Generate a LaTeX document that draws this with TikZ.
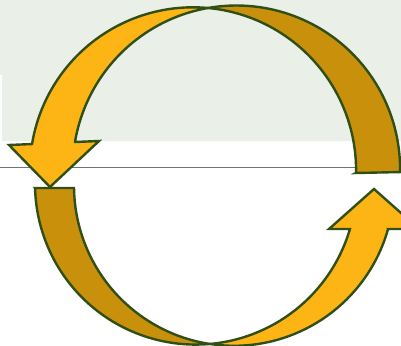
\documentclass[tikz,border=0pt]{standalone}
\definecolor{bgshade}{HTML}{EAF0E8}
\definecolor{goldlight}{HTML}{FDB515}
\definecolor{golddark}{HTML}{C9900C}
\definecolor{edgegreen}{HTML}{2F4F14}
\begin{document}
\begin{tikzpicture}[
    x=0.75pt, y=-0.75pt,
    lightpart/.style={fill=goldlight, draw=edgegreen, line width=1.8pt},
    darkpart/.style={fill=golddark, draw=edgegreen, line width=1.8pt},
    rule/.style={draw=black!55, line width=1pt},
    edge/.style={samples=60}
]
    \useasboundingbox (0,0) rectangle (401,346);
    \fill[bgshade] (0,0) -- (401,0) -- (401,141) -- (2,141) -- (2,75) -- (0,75) -- cycle;
    \draw[rule] (0,167.5) -- (378,167.5);

    % upper ring
    \draw[darkpart] plot[edge, domain=100:-1.0] ({236.4+163.7*cos(\x)}, {169.2-163.7*sin(\x)})
        -- (356,173)
        -- plot[edge, domain=-0.9:84.7] ({193+163.1*cos(\x)}, {170.4-163.1*sin(\x)}) -- cycle;
    \draw[lightpart] (50,187) -- (99,141) -- (75,142)
        -- plot[edge, domain=170.4:100] ({236.4+163.7*cos(\x)}, {169.2-163.7*sin(\x)})
        -- plot[edge, domain=84.7:170.7] ({193+163.1*cos(\x)}, {170.4-163.1*sin(\x)})
        -- (9,145) -- cycle;

    % lower ring
    \draw[darkpart] (35,188) -- (74,188)
        -- plot[edge, domain=180.8:261.4] ({234+160*cos(\x)}, {185.8-160*sin(\x)})
        -- plot[edge, domain=275.1:181.5] ({195.7+160.7*cos(\x)}, {183.9-160.7*sin(\x)}) -- cycle;
    \draw[lightpart] (374,189) -- (419,229) -- (388,229)
        -- plot[edge, domain=344.3:261.4] ({234+160*cos(\x)}, {185.8-160*sin(\x)})
        -- plot[edge, domain=275.1:343.7] ({195.7+160.7*cos(\x)}, {183.9-160.7*sin(\x)})
        -- (329,229) -- cycle;
\end{tikzpicture}
\end{document}
